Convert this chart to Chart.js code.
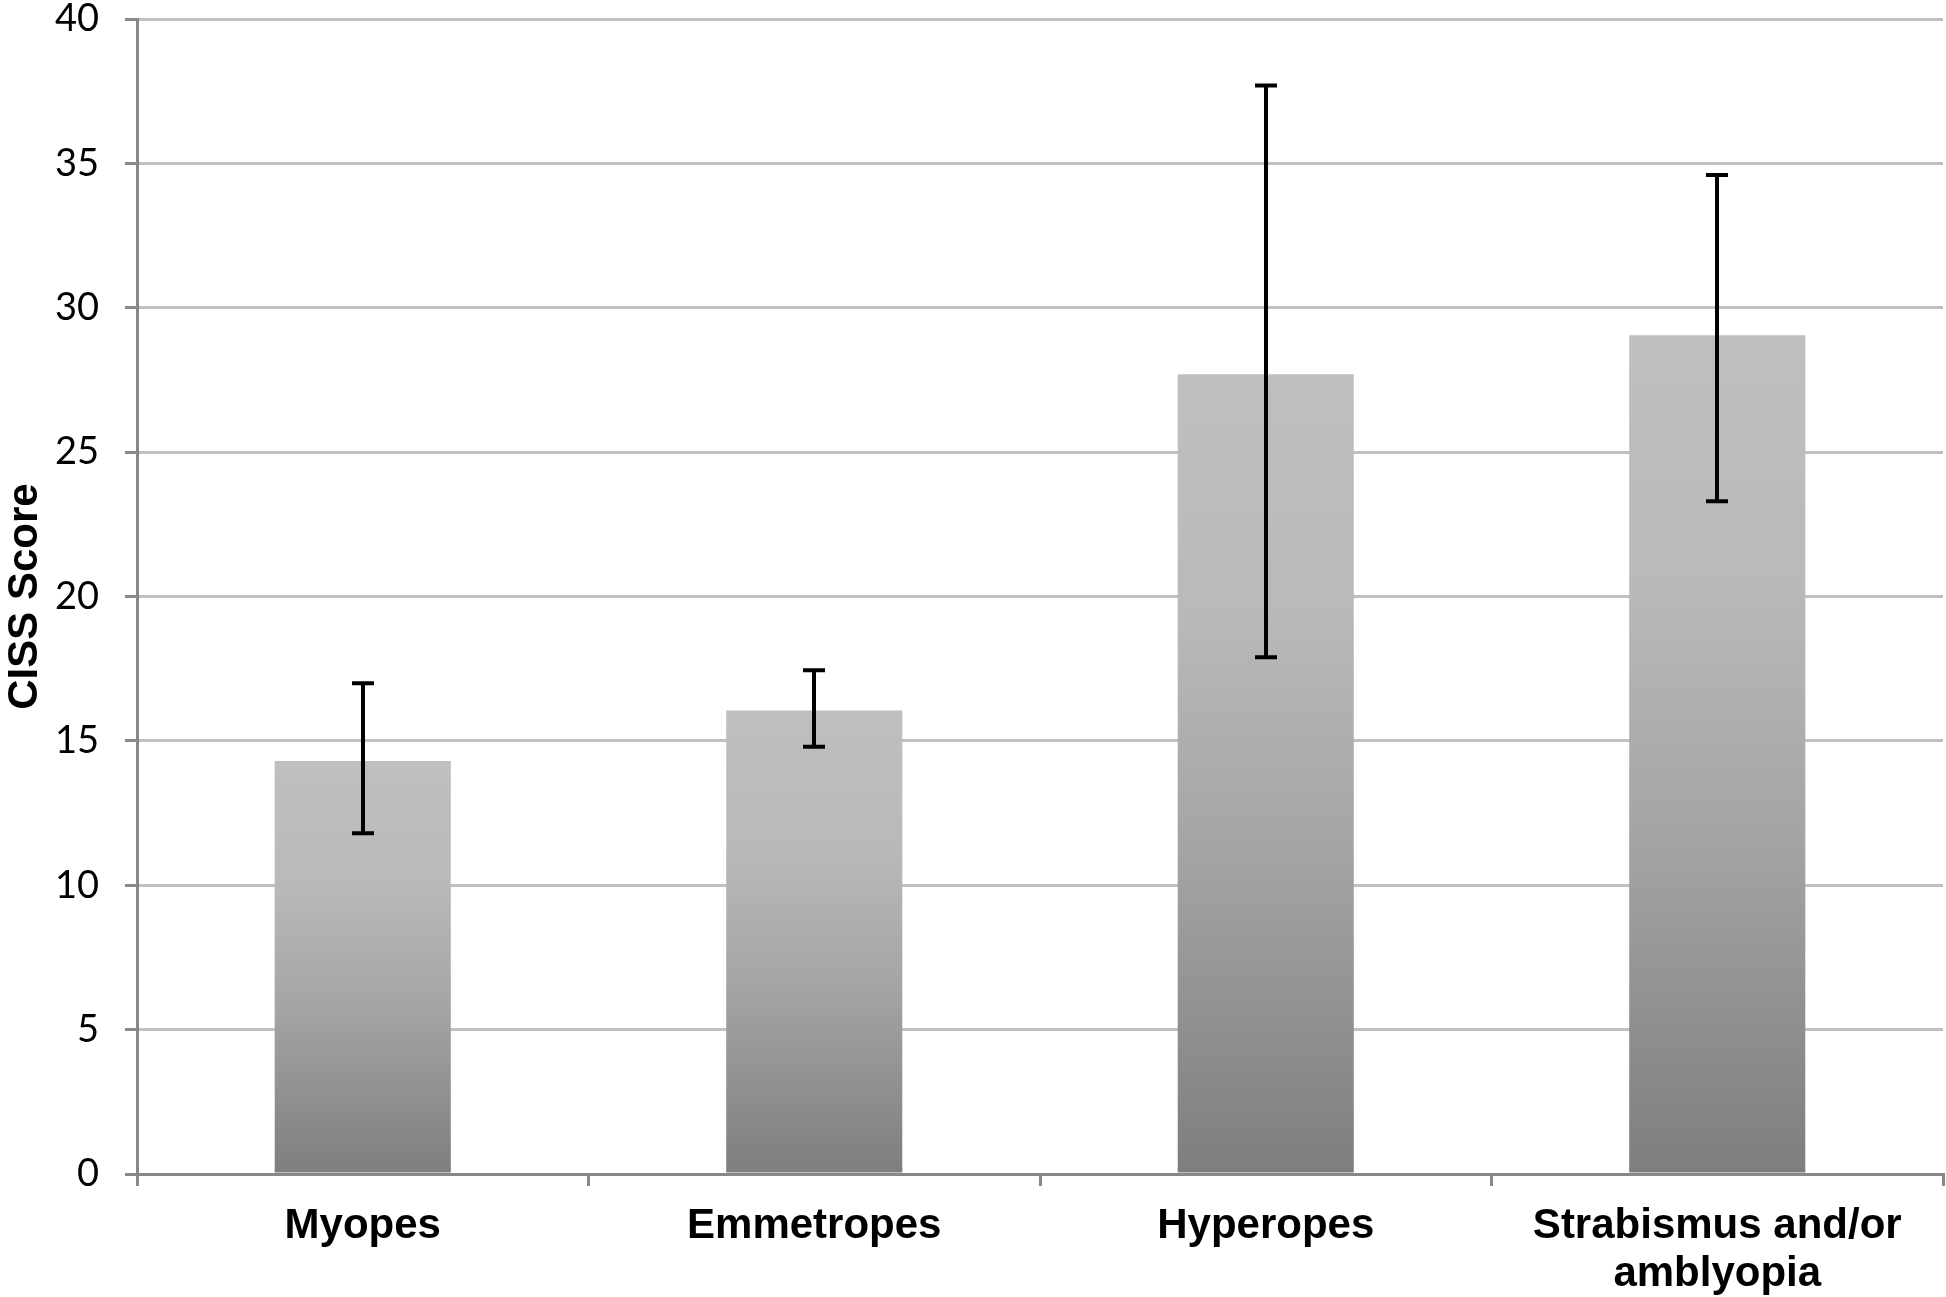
<!DOCTYPE html>
<html>
<head>
<meta charset="utf-8">
<script src="https://cdn.jsdelivr.net/npm/chart.js@4.4.1/dist/chart.umd.min.js"></script>
<style>
  html, body { margin: 0; padding: 0; background: #fff; }
  #wrap { width: 1946px; height: 1297px; position: relative; }
</style>
</head>
<body>
<div id="wrap"><canvas id="cissChart"></canvas></div>
<script>
// values
const groups = ['Myopes', 'Emmetropes', 'Hyperopes', ['Strabismus and/or', 'amblyopia']];
const meanScore = [14.3, 16.05, 27.7, 29.05];
const errLow = [11.8, 14.8, 17.9, 23.3];
const errHigh = [17.0, 17.45, 37.7, 34.6];
const yTicks = [0, 5, 10, 15, 20, 25, 30, 35, 40];

const ctx = document.getElementById('cissChart').getContext('2d');

// gradient runs from top to bottom of each bar
function barFill(c) {
    const chart = c.chart;
    const y = chart.scales && chart.scales.y;
    if (!chart.chartArea || !y || c.raw == null) return '#aaaaaa';
    const top = y.getPixelForValue(c.raw);
    const bottom = y.getPixelForValue(0);
    const g = chart.ctx.createLinearGradient(0, top, 0, bottom);
    g.addColorStop(0, '#bfbfbf');
    g.addColorStop(0.3, '#b9b9b9');
    g.addColorStop(0.6, '#a4a4a4');
    g.addColorStop(1, '#7e7e7e');
    return g;
}

const errorBars = {
    id: 'errorBars',
    afterDatasetsDraw(chart) {
        const meta = chart.getDatasetMeta(0);
        const y = chart.scales.y;
        const c = chart.ctx;
        c.save();
        c.strokeStyle = '#000';
        c.lineWidth = 4;
        c.lineCap = 'butt';
        meta.data.forEach((bar, i) => {
            const x = Math.round(bar.x);
            const yHi = y.getPixelForValue(errHigh[i]);
            const yLo = y.getPixelForValue(errLow[i]);
            c.beginPath();
            c.moveTo(x, yHi - 2); c.lineTo(x, yLo + 2);
            c.moveTo(x - 11, yHi); c.lineTo(x + 11, yHi);
            c.moveTo(x - 11, yLo); c.lineTo(x + 11, yLo);
            c.stroke();
        });
        c.restore();
    }
};

new Chart(ctx, {
    type: 'bar',
    data: {
        labels: groups,
        datasets: [{
            data: meanScore,
            backgroundColor: barFill,
            borderWidth: 0,
            categoryPercentage: 1,
            barPercentage: 0.39
        }]
    },
    options: {
        responsive: true,
        maintainAspectRatio: false,
        animation: false,
        layout: { padding: { top: 0, right: 3, left: 0, bottom: 0 } },
        plugins: { legend: { display: false }, tooltip: { enabled: false } },
        scales: {
            y: {
                min: 0, max: 40,
                afterBuildTicks: (s) => { s.ticks = yTicks.map(v => ({ value: v })); },
                afterFit: (s) => { s.width = 137; s.paddingTop = 19; s.paddingBottom = 0; },
                grid: { color: '#c0c0c0', lineWidth: 3, tickColor: '#888888', tickLength: 12 },
                border: { color: '#888888', width: 3 },
                ticks: {
                    color: '#000', padding: 26,
                    font: { family: 'Lato, "Open Sans", sans-serif', size: 38 }
                },
                title: {
                    display: true, text: 'CISS Score', color: '#000', padding: 0,
                    font: { family: '"Liberation Sans", Arial, sans-serif', size: 42, weight: 'bold' }
                }
            },
            x: {
                afterFit: (s) => { s.height = 123; },
                grid: { display: true, drawOnChartArea: false, drawTicks: true, tickLength: 12, color: '#888888', lineWidth: 3, offset: true },
                border: { color: '#888888', width: 3 },
                ticks: {
                    color: '#000', padding: 16, maxRotation: 0,
                    font: { family: '"Liberation Sans", Arial, sans-serif', size: 42, weight: 'bold', lineHeight: 1.15 }
                }
            }
        }
    },
    plugins: [errorBars]
});
</script>
</body>
</html>
